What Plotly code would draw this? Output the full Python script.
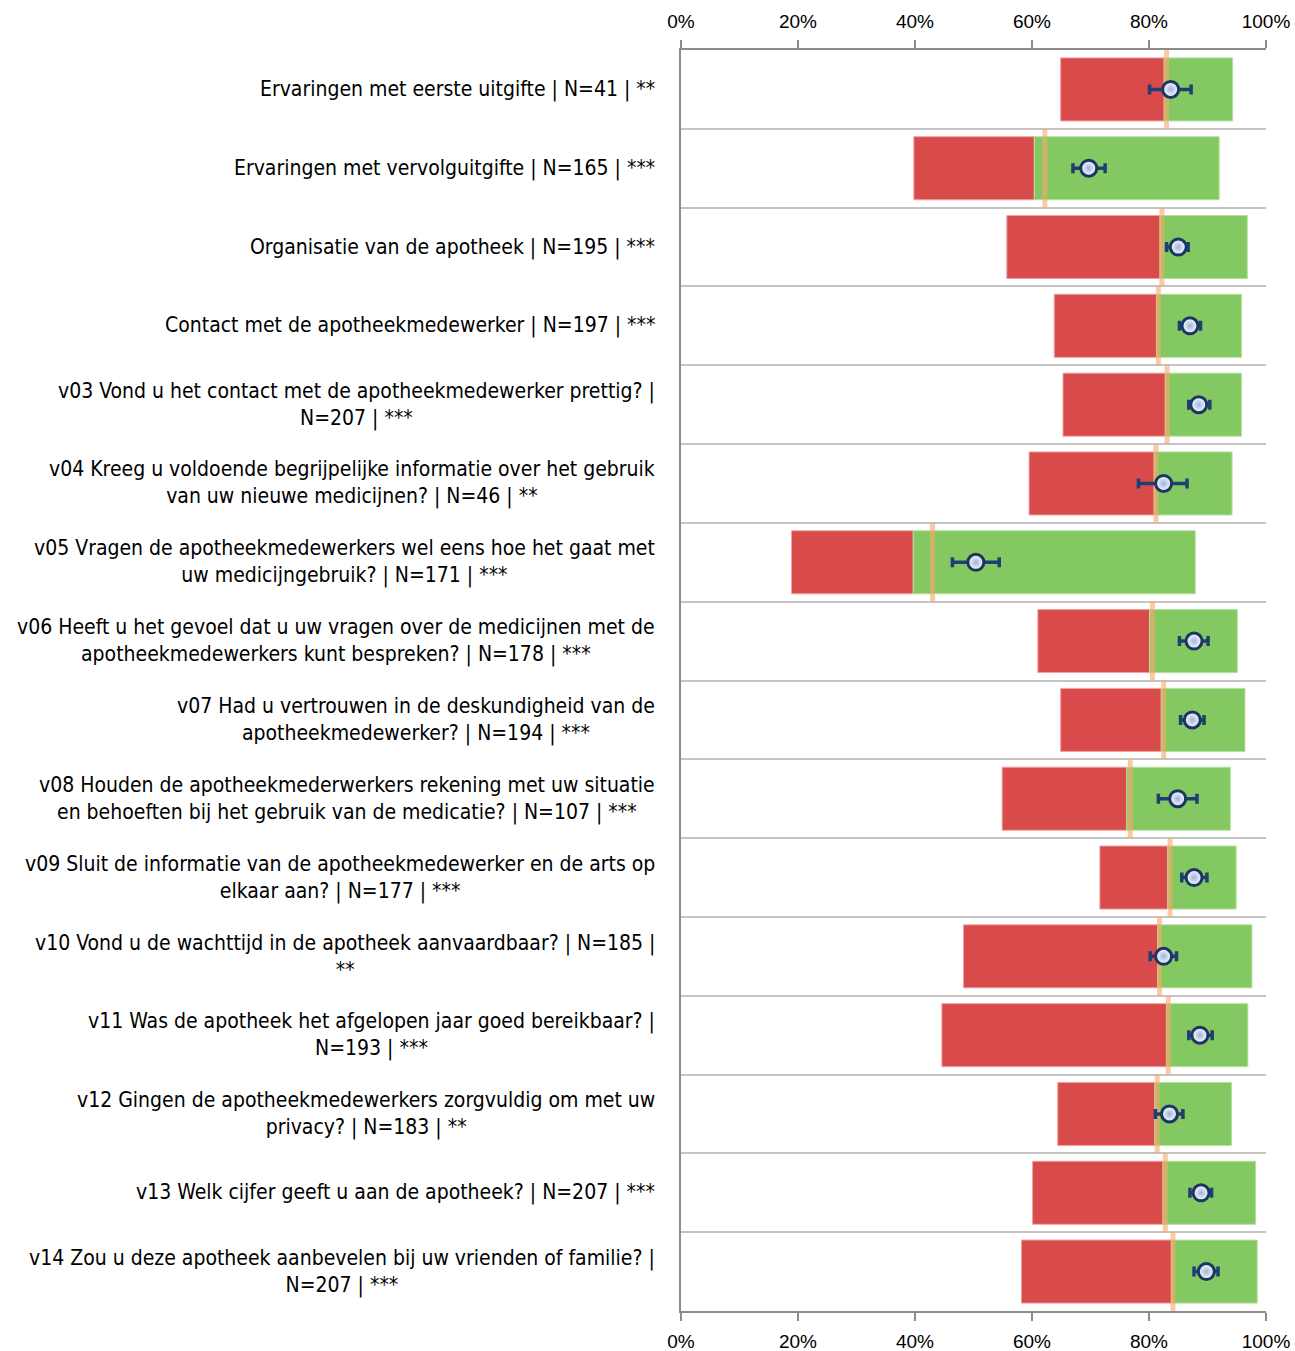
import plotly.graph_objects as go

categories = [
    "Ervaringen met eerste uitgifte | N=41 | **",
    "Ervaringen met vervolguitgifte | N=165 | ***",
    "Organisatie van de apotheek | N=195 | ***",
    "Contact met de apotheekmedewerker | N=197 | ***",
    "v03 Vond u het contact met de apotheekmedewerker prettig? |<br>N=207 | ***",
    "v04 Kreeg u voldoende begrijpelijke informatie over het gebruik<br>van uw nieuwe medicijnen? | N=46 | **",
    "v05 Vragen de apotheekmedewerkers wel eens hoe het gaat met<br>uw medicijngebruik? | N=171 | ***",
    "v06 Heeft u het gevoel dat u uw vragen over de medicijnen met de<br>apotheekmedewerkers kunt bespreken? | N=178 | ***",
    "v07 Had u vertrouwen in de deskundigheid van de<br>apotheekmedewerker? | N=194 | ***",
    "v08 Houden de apotheekmederwerkers rekening met uw situatie<br>en behoeften bij het gebruik van de medicatie? | N=107 | ***",
    "v09 Sluit de informatie van de apotheekmedewerker en de arts op<br>elkaar aan? | N=177 | ***",
    "v10 Vond u de wachttijd in de apotheek aanvaardbaar? | N=185 |<br>**",
    "v11 Was de apotheek het afgelopen jaar goed bereikbaar? |<br>N=193 | ***",
    "v12 Gingen de apotheekmedewerkers zorgvuldig om met uw<br>privacy? | N=183 | **",
    "v13 Welk cijfer geeft u aan de apotheek? | N=207 | ***",
    "v14 Zou u deze apotheek aanbevelen bij uw vrienden of familie? |<br>N=207 | ***",
]

# percentages
range_low = [64.9, 39.8, 55.7, 63.8, 65.3, 59.5, 18.9, 61.0, 64.9, 54.9, 71.6, 48.3, 44.6, 64.4, 60.1, 58.2]
range_mid = [82.6, 60.4, 81.9, 81.3, 82.8, 80.9, 39.7, 80.1, 82.1, 76.2, 83.2, 81.5, 83.0, 81.0, 82.4, 83.9]
range_high = [94.3, 92.0, 96.8, 95.8, 95.8, 94.2, 87.9, 95.1, 96.4, 93.9, 94.9, 97.6, 96.9, 94.1, 98.2, 98.5]
benchmark = [83.0, 62.2, 82.2, 81.6, 83.1, 81.2, 43.0, 80.6, 82.5, 76.8, 83.6, 81.8, 83.3, 81.4, 82.8, 84.1]
score = [83.7, 69.7, 85.0, 87.0, 88.5, 82.5, 50.4, 87.7, 87.4, 84.9, 87.7, 82.5, 88.7, 83.5, 88.9, 89.8]
ci_low = [80.1, 67.0, 83.0, 85.2, 86.8, 78.2, 46.4, 85.2, 85.4, 81.6, 85.6, 80.2, 86.8, 81.1, 87.0, 87.7]
ci_high = [87.2, 72.5, 86.7, 88.8, 90.4, 86.5, 54.4, 90.1, 89.4, 88.2, 89.9, 84.7, 90.8, 85.8, 90.7, 91.8]
x_ticks = [0, 20, 40, 60, 80, 100]

FONT = "Liberation Sans Narrow, Arial Narrow, DejaVu Sans Condensed, sans-serif"
TICK_FONT = "Liberation Sans Narrow, Arial Narrow, Liberation Sans, Arial, sans-serif"
n = len(categories)
ypos = list(range(n))

fig = go.Figure()

fig.add_trace(go.Bar(
    y=ypos, x=[m - l for l, m in zip(range_low, range_mid)], base=range_low,
    orientation="h", width=0.8,
    marker=dict(color="#d94b4b", line=dict(color="#f0a0a0", width=1)),
    showlegend=False, hoverinfo="skip",
))
fig.add_trace(go.Bar(
    y=ypos, x=[h - m for m, h in zip(range_mid, range_high)], base=range_mid,
    orientation="h", width=0.8,
    marker=dict(color="#84c862", line=dict(color="#b5e0a0", width=1)),
    showlegend=False, hoverinfo="skip",
))

bx, by = [], []
for i, b in enumerate(benchmark):
    bx += [b, b, None]
    by += [i - 0.5, i + 0.5, None]
fig.add_trace(go.Scatter(
    x=bx, y=by, mode="lines",
    line=dict(color="rgba(248,170,110,0.62)", width=5),
    showlegend=False, hoverinfo="skip",
))

fig.add_trace(go.Scatter(
    x=score, y=ypos, mode="markers",
    error_x=dict(type="data", symmetric=False,
                 array=[h - s for s, h in zip(score, ci_high)],
                 arrayminus=[s - l for s, l in zip(score, ci_low)],
                 color="#1f3f73", thickness=3.5, width=5),
    marker=dict(size=16, color="#ffffff",
                gradient=dict(type="radial", color="#9db4dc"),
                line=dict(color="#1c3562", width=3)),
    showlegend=False, hoverinfo="skip",
))

# invisible trace for bottom axis
fig.add_trace(go.Scatter(x=[0, 100], y=[0, 0], xaxis="x2", mode="markers",
                         marker=dict(opacity=0), showlegend=False, hoverinfo="skip"))

for i, c in enumerate(categories):
    fig.add_annotation(
        x=0, xref="paper", xshift=-24, xanchor="right",
        y=i, yref="y", yanchor="middle",
        text=c, align="center", showarrow=False,
        font=dict(family=FONT, size=21, color="#000000"),
    )

axis_common = dict(
    range=[0, 100], tickvals=x_ticks, ticktext=[f"{t}%" for t in x_ticks],
    showgrid=False, zeroline=False, showline=True, linecolor="#8c8c8c", linewidth=2,
    ticks="outside", ticklen=8, tickwidth=1.5, tickcolor="#8c8c8c",
    ticklabelstandoff=4, automargin=False,
    tickfont=dict(family=TICK_FONT, size=19, color="#000000"),
)
fig.update_layout(
    width=1295, height=1351,
    margin=dict(l=681, r=29, t=50, b=40),
    plot_bgcolor="white", paper_bgcolor="white",
    barmode="overlay",
    xaxis=dict(side="top", **axis_common),
    xaxis2=dict(side="bottom", overlaying="x", anchor="y", matches="x", **axis_common),
    yaxis=dict(range=[n - 0.5, -0.5], tickvals=[i + 0.5 for i in range(-1, n)],
               showticklabels=False, showgrid=True, gridcolor="#c4c4c4", gridwidth=2,
               zeroline=False, showline=True, linecolor="#8c8c8c", linewidth=2, ticks="",
               automargin=False),
    font=dict(family=FONT),
)

# remove the default page margin so the figure fills the window exactly
fig.write_html("out.html",
               config={"displayModeBar": False, "staticPlot": True},
               post_script="document.body.style.margin='0';document.body.style.overflow='hidden';")
